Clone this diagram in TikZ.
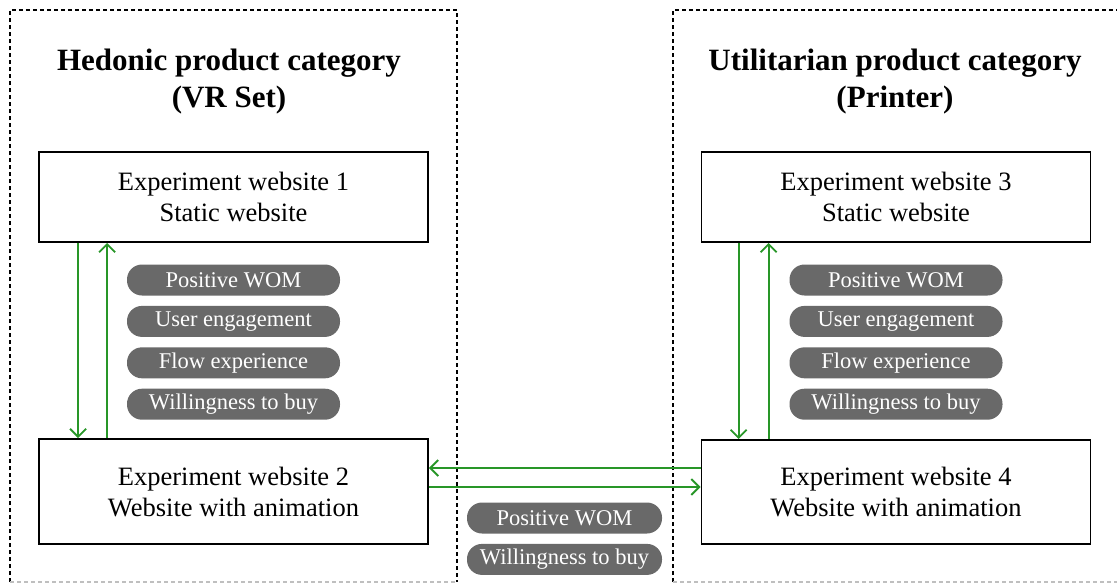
\documentclass[tikz,border=0pt]{standalone}
\usepackage{fontspec}
\setmainfont{Liberation Serif}
\usetikzlibrary{arrows.meta,positioning}

\definecolor{arrgreen}{RGB}{40,150,40}
\definecolor{pillgray}{RGB}{105,105,105}

\begin{document}
\begin{tikzpicture}[
    x=1pt, y=-1pt,
    node distance=10pt,
    site/.style={draw, line width=1.8pt, minimum width=389pt, align=center, inner sep=0pt, font=\fontsize{26.5}{31}\selectfont},
    pill/.style={fill=pillgray, text=white, rounded corners=15pt, minimum width=213pt, minimum height=31pt, inner sep=0pt, font=\fontsize{22.5}{24}\selectfont},
    frame/.style={line width=1.8pt, dash pattern=on 4pt off 3pt},
    title/.style={font=\bfseries\fontsize{31}{37}\selectfont, align=center},
    arr/.style={-{Straight Barb[length=8pt, width=16pt]}, line width=1.9pt, draw=arrgreen},
  ]
  \useasboundingbox (0,0) rectangle (1117,584);

  % ===== dotted category frames =====
  \draw[frame] (10,582) -- (10,10) -- (457,10) -- (457,582);
  \draw[frame, draw=black!25] (10,582) -- (457,582);
  \draw[frame] (673,582) -- (673,10) -- (1125,10);
  \draw[frame, draw=black!25] (673,582) -- (1125,582);

  % ===== hedonic side =====
  \node[title] (hedtitle) at (229,82) {Hedonic product category\\(VR Set)};
  \node[site, minimum height=90pt]  (web1) at (233.5,197)   {Experiment website 1\\Static website};
  \node[site, minimum height=105pt] (web2) at (233.5,491.5) {Experiment website 2\\Website with animation};

  \node[pill] (wom1) at (233.5,280) {Positive WOM};
  \node[pill, below=of wom1] (eng1)  {User engagement};
  \node[pill, below=of eng1] (flow1) {Flow experience};
  \node[pill, below=of flow1] (buy1) {Willingness to buy};

  \draw[arr] ([xshift=40pt]web1.south west) -- ([xshift=40pt]web2.north west);
  \draw[arr] ([xshift=69pt]web2.north west) -- ([xshift=69pt]web1.south west);

  % ===== utilitarian side =====
  \node[title] (utiltitle) at (895,82) {Utilitarian product category\\(Printer)};
  \node[site, minimum height=90pt]  (web3) at (896,197)   {Experiment website 3\\Static website};
  \node[site, minimum height=104pt] (web4) at (896,492)   {Experiment website 4\\Website with animation};

  \node[pill] (wom3) at (896,280) {Positive WOM};
  \node[pill, below=of wom3] (eng3)  {User engagement};
  \node[pill, below=of eng3] (flow3) {Flow experience};
  \node[pill, below=of flow3] (buy3) {Willingness to buy};

  \draw[arr] ([xshift=38pt]web3.south west) -- ([xshift=38pt]web4.north west);
  \draw[arr] ([xshift=68pt]web4.north west) -- ([xshift=68pt]web3.south west);

  % ===== between the categories =====
  \draw[arr] ([yshift=24pt]web4.west) -- ([yshift=23.5pt]web2.east);
  \draw[arr] ([yshift=4.5pt]web2.east) -- ([yshift=5pt]web4.west);

  \node[pill, minimum width=195pt] (wom5) at (564.5,518) {Positive WOM};
  \node[pill, minimum width=195pt, below=of wom5] (buy5) {Willingness to buy};

\end{tikzpicture}
\end{document}
